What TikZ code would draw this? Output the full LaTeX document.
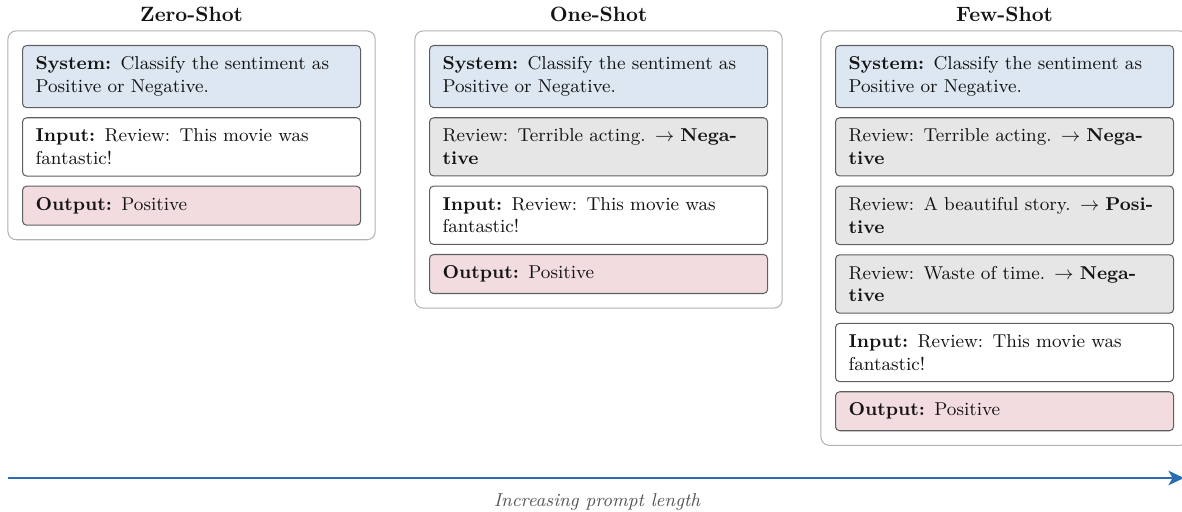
\documentclass[tikz,border=0pt]{standalone}
\usetikzlibrary{positioning,fit,arrows.meta,backgrounds}
\definecolor{sysblue}{RGB}{221,231,242}
\definecolor{exgray}{RGB}{230,230,230}
\definecolor{outpink}{RGB}{242,220,224}
\definecolor{bordergray}{RGB}{95,95,95}
\definecolor{contgray}{RGB}{178,178,178}
\definecolor{arrowblue}{RGB}{44,108,176}
\definecolor{labelgray}{RGB}{85,85,85}
\tikzset{
  box/.style={draw=bordergray, line width=0.5pt, rounded corners=2pt,
    text width=150.7pt, inner xsep=6.3pt, inner ysep=5.4pt, align=left,
    font=\small, text=black!92},
  sysbox/.style={box, fill=sysblue},
  exbox/.style={box, fill=exgray},
  inbox/.style={box, fill=white},
  outbox/.style={box, fill=outpink},
  container/.style={draw=contgray, line width=0.5pt, rounded corners=4pt,
    inner sep=6.8pt},
  coltitle/.style={font=\bfseries, text=black!92, anchor=base},
  axisarrow/.style={draw=arrowblue, line width=1.2pt,
    -{Stealth[length=7.5pt, width=7pt, inset=2pt]}},
  axislabel/.style={font=\small\itshape, text=labelgray},
}
\begin{document}
\begin{tikzpicture}[x=0.483pt, y=-0.483pt]
\useasboundingbox (0,0) rectangle (1182,512);

% Zero-shot
\node[sysbox, anchor=north west] (s1) at (22,45)
  {\textbf{System:} Classify the sentiment as\\Positive or Negative.};
\node[inbox, below=4.4pt of s1] (i1)
  {\textbf{Input:} Review: This movie was\\fantastic!};
\node[outbox, below=4.4pt of i1] (o1) {\textbf{Output:} Positive};

% One-shot
\node[sysbox, anchor=north west] (s2) at (429,45)
  {\textbf{System:} Classify the sentiment as\\Positive or Negative.};
\node[exbox, below=4.4pt of s2] (e21)
  {Review: Terrible acting. $\rightarrow$ \textbf{Nega-}\\\textbf{tive}};
\node[inbox, below=4.4pt of e21] (i2)
  {\textbf{Input:} Review: This movie was\\fantastic!};
\node[outbox, below=4.4pt of i2] (o2) {\textbf{Output:} Positive};

% Few-shot
\node[sysbox, anchor=north west] (s3) at (835,45)
  {\textbf{System:} Classify the sentiment as\\Positive or Negative.};
\node[exbox, below=4.4pt of s3] (e31)
  {Review: Terrible acting. $\rightarrow$ \textbf{Nega-}\\\textbf{tive}};
\node[exbox, below=4.4pt of e31] (e32)
  {Review: A beautiful story. $\rightarrow$ \textbf{Posi-}\\\textbf{tive}};
\node[exbox, below=4.4pt of e32] (e33)
  {Review: Waste of time. $\rightarrow$ \textbf{Nega-}\\\textbf{tive}};
\node[inbox, below=4.4pt of e33] (i3)
  {\textbf{Input:} Review: This movie was\\fantastic!};
\node[outbox, below=4.4pt of i3] (o3) {\textbf{Output:} Positive};

\begin{scope}[on background layer]
  \node[container, fit=(s1)(o1)] (c1) {};
  \node[container, fit=(s2)(o2)] (c2) {};
  \node[container, fit=(s3)(o3)] (c3) {};
\end{scope}

\node[coltitle] (t1) at ([yshift=4.3pt]c1.north) {Zero-Shot};
\node[coltitle] (t2) at ([yshift=4.3pt]c2.north) {One-Shot};
\node[coltitle] (t3) at ([yshift=4.3pt]c3.north) {Few-Shot};

\coordinate (a0) at (8,478);
\coordinate (a1) at (1184,478);
\draw[axisarrow] (a0) -- (a1);
\node[axislabel] (lbl) at (597,502) {Increasing prompt length};
\end{tikzpicture}
\end{document}
